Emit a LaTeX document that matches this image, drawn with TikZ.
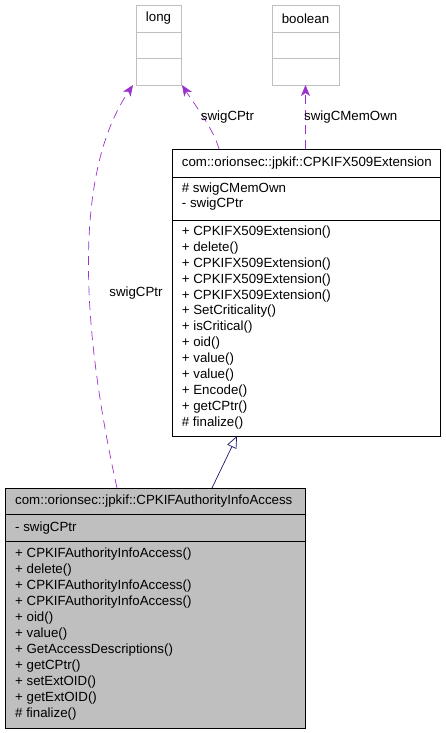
\documentclass[tikz,border=0pt]{standalone}
\usepackage{fontspec}
\setmainfont{Liberation Sans}
\usetikzlibrary{arrows.meta,calc}

\definecolor{usepurple}{HTML}{9A32CD}
\definecolor{inhblue}{HTML}{191970}
\definecolor{boxgray}{HTML}{BFBFBF}

\begin{document}
\begin{tikzpicture}[x=1pt, y=-1pt,
  txt/.style = {inner sep=0pt, font=\fontsize{13.3}{16}\selectfont},
  member/.style = {txt, anchor=west},
  classbox/.style = {draw, inner sep=0pt, outer sep=0pt, line width=0.8pt},
  usage/.style = {usepurple, dash pattern=on 9pt off 6pt, line width=0.7pt, -{Stealth[length=11pt, width=9pt, inset=3pt]}},
  inherit/.style = {inhblue, line width=0.7pt, -{Triangle[open, fill=white, length=12pt, width=10pt]}}]

\useasboundingbox (0,0) rectangle (445,733);

% Plain types
\node[classbox, boxgray, minimum width=45pt, minimum height=80pt] (long) at (158.5,45) {};
\draw[boxgray, line width=0.8pt] (136,32) -- (181,32);
\draw[boxgray, line width=0.8pt] (136,58) -- (181,58);
\node[txt] (longT) at (158.5,18.5) {long};

\node[classbox, boxgray, minimum width=67pt, minimum height=80pt] (bool) at (305.5,45) {};
\draw[boxgray, line width=0.8pt] (272,32) -- (339,32);
\draw[boxgray, line width=0.8pt] (272,58) -- (339,58);
\node[txt] (boolT) at (305.5,18.5) {boolean};

% Base class
\node[classbox, minimum width=268pt, minimum height=287pt] (ext) at (306,292.5) {};
\draw[line width=0.8pt] (172,177) -- (440,177);
\draw[line width=0.8pt] (172,220) -- (440,220);
\node[member] (extT) at (181.7,163) {com::orionsec::jpkif::CPKIFX509Extension};
\node[member] (exta0) at (181.7,189) {\# swigCMemOwn};
\node[member] (exta1) at (181.7,204) {- swigCPtr};
\foreach \m [count=\i from 0] in {+ CPKIFX509Extension(), + delete(), + CPKIFX509Extension(), + CPKIFX509Extension(), + CPKIFX509Extension(), + SetCriticality(), + isCritical(), + oid(), + value(), + value(), + Encode(), + getCPtr(), \# finalize()} {
  \node[member] (extm\i) at (181.7,232+15.9*\i) {\m};
}

% Derived class
\node[classbox, fill=boxgray, minimum width=300pt, minimum height=240pt] (cls) at (155,608) {};
\draw[line width=0.8pt] (5,514) -- (305,514);
\draw[line width=0.8pt] (5,541) -- (305,541);
\node[member] (clsT) at (15,501) {com::orionsec::jpkif::CPKIFAuthorityInfoAccess};
\node[member] (clsa0) at (15,528) {- swigCPtr};
\foreach \m [count=\i from 0] in {+ CPKIFAuthorityInfoAccess(), + delete(), + CPKIFAuthorityInfoAccess(), + CPKIFAuthorityInfoAccess(), + oid(), + value(), + GetAccessDescriptions(), + getCPtr(), + setExtOID(), + getExtOID(), \# finalize()} {
  \node[member] (clsm\i) at (15,554+16*\i) {\m};
}

% Relations
\draw[inherit] ($(cls.north west)+(207,0)$) -- ($(ext.south west)+(65,0)$);
\draw[usage] ($(cls.north west)+(112,0)$) .. controls (82,330) and (72,175) .. ($(long.south west)+(-3,0)$);
\draw[usage] ($(ext.north west)+(47,0)$) .. controls (214,130) and (195,105) .. ($(long.south east)+(1,0)$);
\draw[usage] (ext.north -| bool.south) -- (bool.south);

% Labels
\node[txt] (lblA) at (136,293) {swigCPtr};
\node[txt] (lblB) at (227.5,117) {swigCPtr};
\node[txt, anchor=west] (lblC) at (304,117) {swigCMemOwn};

\end{tikzpicture}
\end{document}
